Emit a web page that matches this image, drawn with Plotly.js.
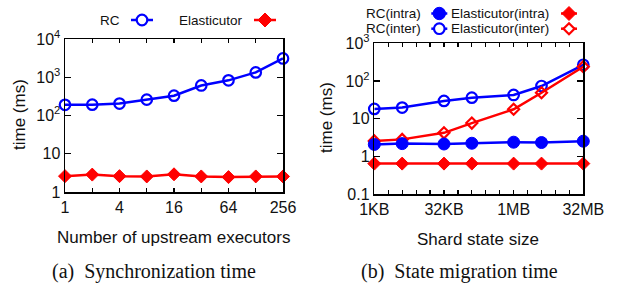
<!DOCTYPE html>
<html><head><meta charset="utf-8">
<script src="https://cdn.plot.ly/plotly-3.0.1.min.js"></script>
<style>html,body{margin:0;padding:0;background:#fff}#chart{width:623px;height:293px}</style>
</head><body><div id="chart"></div>
<script>
// (a) Synchronization time
const executors = [1, 2, 4, 8, 16, 32, 64, 128, 256];
const syncRC = [190, 192, 205, 260, 330, 610, 830, 1340, 3100];
const syncElasticutor = [2.6, 2.85, 2.6, 2.55, 2.9, 2.55, 2.45, 2.55, 2.55];
const execTickVals = [1, 2, 4, 8, 16, 32, 64, 128, 256];
const execTickText = ['1', '', '4', '', '16', '', '64', '', '256'];

// (b) State migration time (sizes in KB)
const stateSizeKB = [1, 4, 32, 128, 1024, 4096, 32768];
const rcIntra = [2.1, 2.2, 2.15, 2.25, 2.4, 2.35, 2.55];
const rcInter = [18.3, 19.8, 29.8, 36.3, 42.8, 74, 270];
const elIntra = [0.65, 0.65, 0.65, 0.65, 0.65, 0.65, 0.65];
const elInter = [2.6, 2.85, 4.25, 7.7, 17.9, 49, 240];
const sizeTickVals = [1,2,4,8,16,32,64,128,256,512,1024,2048,4096,8192,16384,32768];
const sizeTickText = ['1KB','','','','','32KB','','','','','1MB','','','','','32MB'];

const yTickValsA = [1, 10, 100, 1000, 10000];
const yTickTextA = ['1', '10', '10<sup>2</sup>', '10<sup>3</sup>', '10<sup>4</sup>'];
const yTickValsB = [0.1, 1, 10, 100, 1000];
const yTickTextB = ['0.1', '1', '10', '10<sup>2</sup>', '10<sup>3</sup>'];

const BLUE = '#0000ff', RED = '#ff0000';
const W = 623, H = 293;
const px = x => x / W, py = y => 1 - y / H;
const FONT = 'Liberation Sans, Arial, sans-serif';

function line(x, y, xa, ya, color, symbol, size, mlw) {
  return {x, y, xaxis: xa, yaxis: ya, type: 'scatter', mode: 'lines+markers',
    cliponaxis: false, showlegend: false,
    line: {color, width: 2.5},
    marker: {symbol, size, color, line: {color, width: mlw}}};
}

const traces = [
  line(executors, syncRC, 'x', 'y', BLUE, 'circle-open', 10.5, 2.2),
  line(executors, syncElasticutor, 'x', 'y', RED, 'diamond', 10, 1),
  line(stateSizeKB, rcInter, 'x2', 'y2', BLUE, 'circle-open', 10.5, 2.2),
  line(stateSizeKB, elInter, 'x2', 'y2', RED, 'diamond-open', 8.5, 2.2),
  line(stateSizeKB, rcIntra, 'x2', 'y2', BLUE, 'circle', 12, 1),
  line(stateSizeKB, elIntra, 'x2', 'y2', RED, 'diamond', 10, 1),
];

const axBase = {type: 'log', showgrid: false, zeroline: false, showline: true, linecolor: '#000', linewidth: 1.5,
  mirror: 'ticks', ticks: 'inside', tickcolor: '#000', tickwidth: 1.2,
  tickfont: {family: FONT, size: 16, color: '#111'}, tickmode: 'array'};

const layout = {
  width: W, height: H, margin: {l: 0, r: 0, t: 0, b: 0},
  paper_bgcolor: '#fff', plot_bgcolor: '#fff', showlegend: false,
  xaxis: Object.assign({}, axBase, {domain: [px(65), px(283)], anchor: 'y',
    range: [0, Math.log10(256)], tickvals: execTickVals, ticktext: execTickText, ticklen: 4}),
  yaxis: Object.assign({}, axBase, {domain: [py(192), py(39)], anchor: 'x',
    range: [0, 4], tickvals: yTickValsA, ticktext: yTickTextA, ticklen: 6}),
  xaxis2: Object.assign({}, axBase, {domain: [px(374.3), px(583.3)], anchor: 'y2',
    range: [0, Math.log10(32768)], tickvals: sizeTickVals, ticktext: sizeTickText, ticklen: 4}),
  yaxis2: Object.assign({}, axBase, {domain: [py(194.3), py(43.3)], anchor: 'x2',
    range: [-1, 3], tickvals: yTickValsB, ticktext: yTickTextB, ticklen: 6}),
  annotations: [],
  shapes: []
};

function txt(text, x, y, opts) {
  layout.annotations.push(Object.assign({text, xref: 'paper', yref: 'paper', x: px(x), y: py(y),
    showarrow: false, xanchor: 'center', yanchor: 'middle',
    font: {family: FONT, size: 17, color: '#111'}}, opts || {}));
}
// axis titles
txt('time (ms)', 19, 115, {textangle: -90});
txt('time (ms)', 326, 118, {textangle: -90});
txt('Number of upstream executors', 174, 237);
txt('Shard state size', 478, 239);
// captions
const SERIF = 'Liberation Serif, Times New Roman, serif';
txt('(a)  Synchronization time', 154, 271, {font: {family: SERIF, size: 20, color: '#111'}});
txt('(b)  State migration time', 460, 271, {font: {family: SERIF, size: 20, color: '#111'}});

// legend entries (gnuplot style: text then sample)
function legend(label, tx, ty, cx, half, color, kind, filled, r) {
  txt(label, tx, ty, {xanchor: 'right', font: {family: FONT, size: 13.5, color: '#111'}});
  layout.shapes.push({type: 'line', xref: 'paper', yref: 'paper',
    x0: px(cx - half), x1: px(cx + half), y0: py(ty), y1: py(ty), line: {color, width: 2.5}});
  const common = {xref: 'paper', yref: 'paper', xsizemode: 'pixel', ysizemode: 'pixel',
    xanchor: px(cx), yanchor: py(ty), fillcolor: filled ? color : '#fff',
    line: {color, width: filled ? 1 : 2.2}};
  if (kind === 'circle') {
    layout.shapes.push(Object.assign({type: 'circle', x0: -r, x1: r, y0: -r, y1: r}, common));
  } else {
    layout.shapes.push(Object.assign({type: 'path', path: `M0,${-r} L${r},0 L0,${r} L${-r},0 Z`}, common));
  }
}
legend('RC', 122, 20, 142, 11, BLUE, 'circle', false, 5.3);
legend('Elasticutor', 245, 20, 265, 11, RED, 'diamond', true, 7);
legend('RC(intra)', 422.7, 13.5, 439.3, 8, BLUE, 'circle', true, 6.2);
legend('RC(inter)', 422.7, 28.7, 439.3, 8, BLUE, 'circle', false, 5.3);
legend('Elasticutor(intra)', 550.7, 13.5, 569, 8, RED, 'diamond', true, 7);
legend('Elasticutor(inter)', 550.7, 28.7, 569, 8, RED, 'diamond', false, 5.5);

Plotly.newPlot('chart', traces, layout, {staticPlot: true});
</script></body></html>
